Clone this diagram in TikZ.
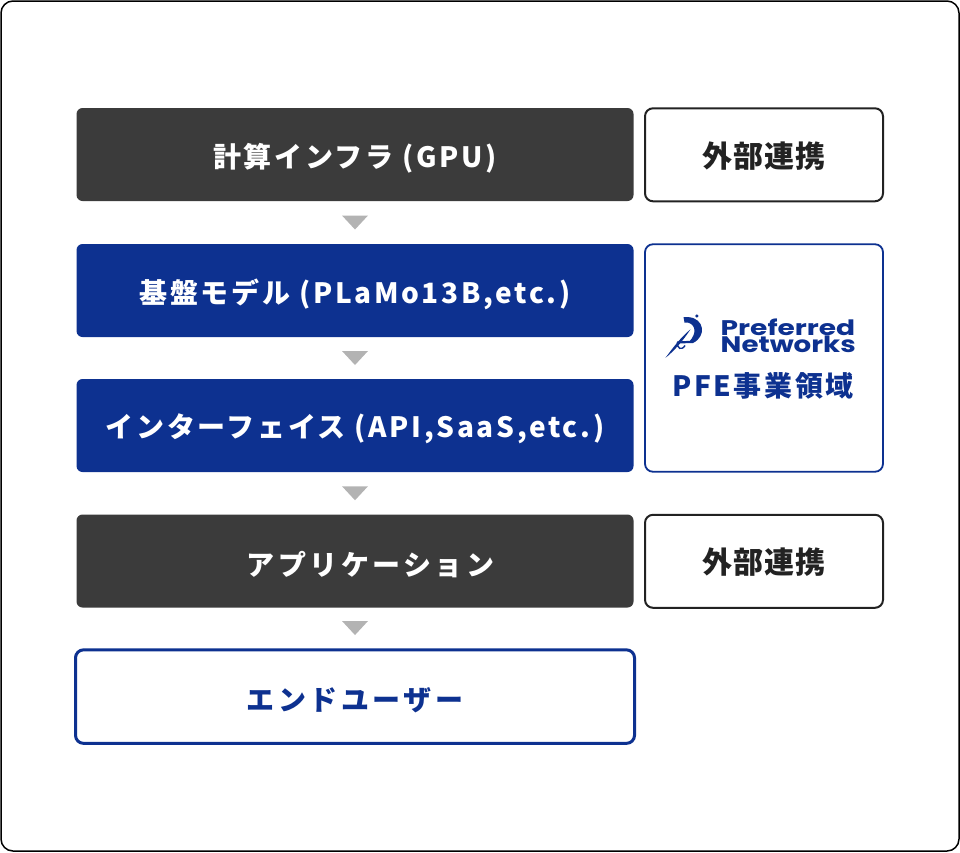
\documentclass[tikz,border=0pt]{standalone}
\usepackage{fontspec}
\usetikzlibrary{calc}
\newfontfamily\jpmix[LetterSpace=9.5]{Noto Sans CJK JP}
\newfontfamily\jpkana[LetterSpace=12.5]{Noto Sans CJK JP}
\newfontfamily\jpside[LetterSpace=3]{Noto Sans CJK JP}
\newfontfamily\pop{Poppins}
\newcommand{\lowered}[2][3.5pt]{\raisebox{-#1}[\height][\depth]{#2}}
\definecolor{pfnblue}{HTML}{0D3190}
\definecolor{darkbox}{HTML}{3B3B3B}
\definecolor{darktext}{HTML}{222222}
\definecolor{tri}{HTML}{B3B3B3}
\tikzset{
  mixlbl/.style={font=\jpmix\bfseries\fontsize{28}{30}\selectfont},
  kanalbl/.style={font=\jpkana\bfseries\fontsize{28}{30}\selectfont},
  sidelbl/.style={font=\jpside\bfseries\fontsize{30}{32}\selectfont},
  stepshape/.style={rounded corners=6pt, minimum width=557pt, minimum height=93pt, inner sep=0pt},
  darkstep/.style={stepshape, fill=darkbox, text=white},
  bluestep/.style={stepshape, fill=pfnblue, text=white},
  userstep/.style={draw=pfnblue, line width=3pt, fill=white, text=pfnblue, rounded corners=8pt, minimum width=559pt, minimum height=93.5pt, inner sep=0pt},
  extbox/.style={sidelbl, draw=darktext, line width=2pt, fill=white, text=darktext, rounded corners=8pt, minimum width=238pt, minimum height=93pt, inner sep=0pt},
  pfebox/.style={draw=pfnblue, line width=1.8pt, fill=white, rounded corners=8pt, minimum width=238pt, minimum height=227.5pt, inner sep=0pt},
  marker/.style={fill=tri},
}
\begin{document}
\begin{tikzpicture}[x=1pt,y=-1pt]
\useasboundingbox (0,0) rectangle (960,852);
\draw[line width=1.5pt, rounded corners=12pt] (1,1) rectangle (959,851);

\node[darkstep, mixlbl] (b1) at (355,154.5) {\lowered{計算インフラ (GPU)}};
\node[bluestep, mixlbl] (b2) at (355,290.5) {\lowered{基盤モデル (PLaMo13B,etc.)}};
\node[bluestep, mixlbl] (b3) at (355,425.5) {\lowered{インターフェイス (API,SaaS,etc.)}};
\node[darkstep, kanalbl] (b4) at (355,561) {\hspace*{31pt}\lowered[4pt]{アプリケーション}};
\node[userstep, kanalbl] (b5) at (355,696.6) {\lowered[4pt]{エンドユーザー}};

\node[extbox] (e1) at (764,154.8) {\lowered[1pt]{外部連携}};
\node[pfebox] (pfe) at (764,358) {};
\node[extbox] (e2) at (764,561.3) {\lowered[1pt]{外部連携}};

% logo
\node[anchor=north west, inner sep=0pt, text=pfnblue, align=left, font=\fontsize{10}{17.2}\selectfont] (pfn) at (720.5,318.2)
  {\resizebox{134.5pt}{16.6pt}{\pop\bfseries Preferred}\\\resizebox{135pt}{16.6pt}{\pop\bfseries Networks}};
\fill[pfnblue] (683.5,317) -- (689,317.2) .. controls (704,318.5) and (707,336) .. (693,343)
  -- (677,343.5) -- (677,341.5) -- (690,340.8) .. controls (696,334) and (696.5,325) .. (688,322.6)
  -- (684.5,322.6) -- cycle;
\fill[pfnblue] (696.8,316) circle (1.7pt);
\fill[pfnblue] (665.5,357.8) .. controls (672,349) and (680,338) .. (690.5,329.3)
  .. controls (682.5,341.5) and (674,351) .. (665.5,357.8) -- cycle;
\draw[pfnblue, line width=1.4pt] (677.3,342.4) .. controls (677,348.5) and (681.5,351) .. (685,345.5);
\node[mixlbl, text=pfnblue, anchor=center] (pfetxt) at (763,386) {PFE事業領域};

% triangles
\foreach \a/\b/\n in {b1/b2/1, b2/b3/2, b3/b4/3, b4/b5/4}{
  \coordinate (t\n) at ($(\a.south)!0.5!(\b.north)$);
  \fill[marker] ([xshift=-13pt,yshift=7pt]t\n) -- ([xshift=13pt,yshift=7pt]t\n) -- ([yshift=-7pt]t\n) -- cycle;
}
\end{tikzpicture}
\end{document}
